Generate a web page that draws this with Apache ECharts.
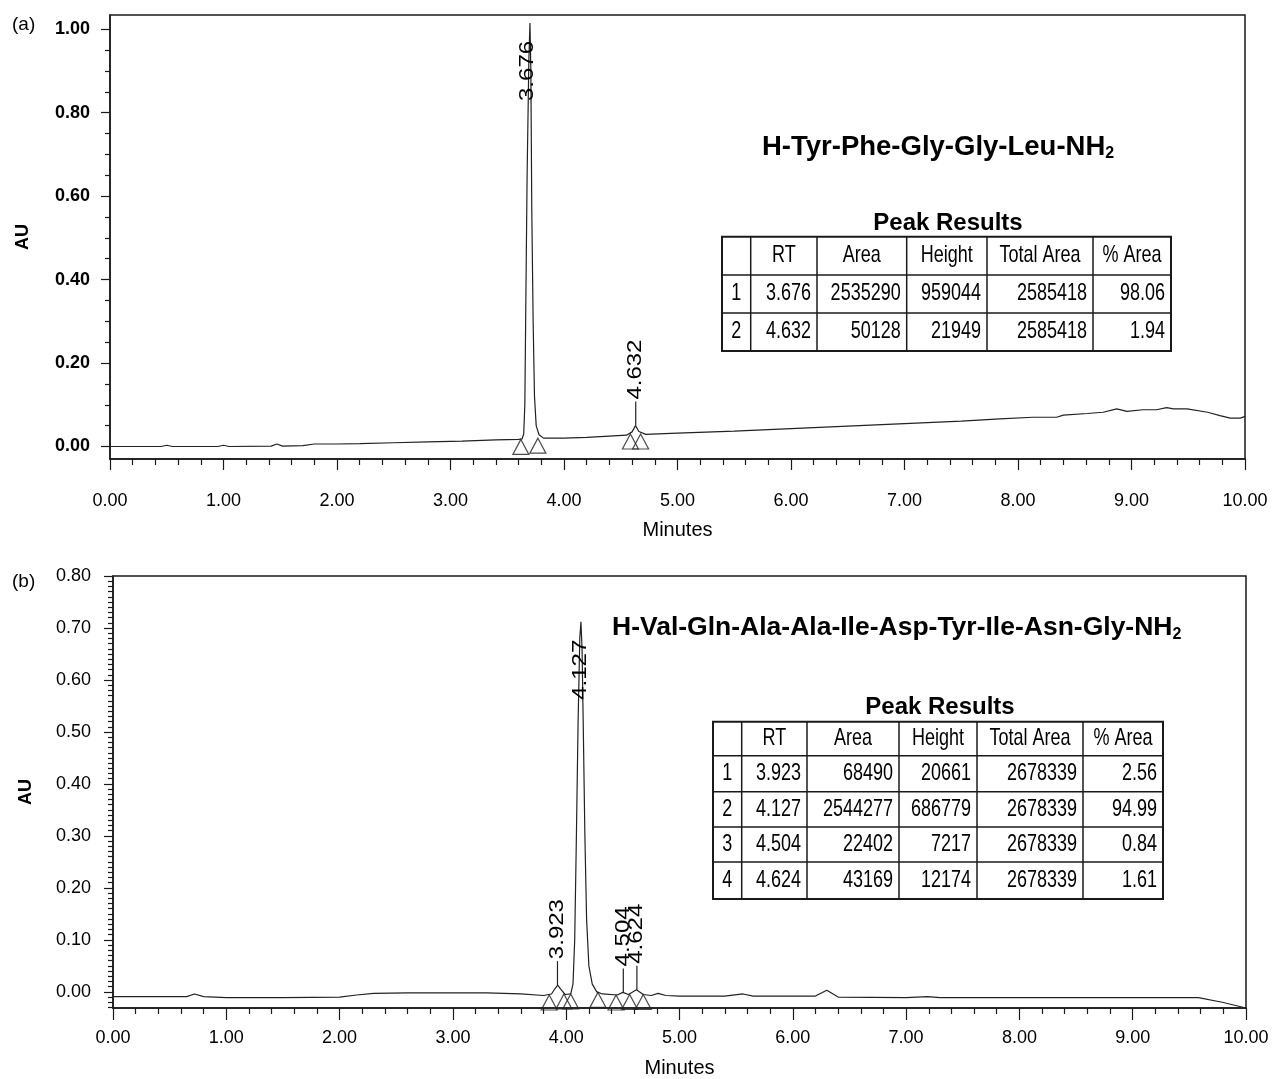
<!DOCTYPE html>
<html>
<head>
<meta charset="utf-8">
<title>Peptide HPLC chromatograms</title>
<script src="https://cdn.jsdelivr.net/npm/echarts@6/dist/echarts.min.js"></script>
<style>
  html, body { margin: 0; padding: 0; background: #fff; }
  #chart { width: 1273px; height: 1079px; }
</style>
</head>
<body>
<div id="chart"></div>
<script>
// chromatogram (a), [minutes, AU]
var traceA = [
  [0.00, 0.000], [0.45, 0.000], [0.50, 0.003], [0.55, 0.000], [0.95, 0.000], [1.00, 0.003],
  [1.05, 0.000], [1.42, 0.001], [1.47, 0.006], [1.52, 0.001], [1.70, 0.002], [1.80, 0.006],
  [2.00, 0.006], [2.20, 0.007], [2.50, 0.009], [2.80, 0.011], [3.10, 0.013], [3.40, 0.016],
  [3.60, 0.017], [3.63, 0.018], [3.645, 0.030], [3.655, 0.100], [3.665, 0.380], [3.675, 0.650],
  [3.690, 0.920], [3.700, 1.015], [3.708, 0.900], [3.716, 0.570], [3.728, 0.300], [3.740, 0.120],
  [3.755, 0.050], [3.78, 0.028], [3.82, 0.020], [4.00, 0.020], [4.20, 0.022], [4.40, 0.025],
  [4.55, 0.027], [4.60, 0.035], [4.63, 0.050], [4.66, 0.036], [4.72, 0.029], [5.00, 0.032],
  [5.50, 0.037], [6.00, 0.043], [6.50, 0.049], [7.00, 0.055], [7.50, 0.061], [7.84, 0.066],
  [8.13, 0.070], [8.34, 0.070], [8.40, 0.075], [8.61, 0.079], [8.75, 0.082], [8.87, 0.090],
  [8.96, 0.084], [9.10, 0.088], [9.22, 0.088], [9.31, 0.093], [9.37, 0.090], [9.49, 0.090],
  [9.67, 0.082], [9.78, 0.074], [9.87, 0.068], [9.96, 0.068], [10.00, 0.072]
];

// chromatogram (b)
var traceB = [
  [0.00, -0.009], [0.65, -0.009], [0.72, -0.004], [0.80, -0.009], [1.00, -0.011], [1.50, -0.011],
  [2.00, -0.010], [2.15, -0.006], [2.30, -0.003], [2.60, -0.002], [3.00, -0.002], [3.30, -0.002],
  [3.60, -0.004], [3.80, -0.007], [3.87, -0.004], [3.90, 0.006], [3.925, 0.013], [3.95, 0.006],
  [3.99, -0.005], [4.04, -0.004], [4.06, 0.015], [4.075, 0.100], [4.09, 0.300], [4.105, 0.520],
  [4.12, 0.680], [4.13, 0.712], [4.14, 0.660], [4.15, 0.520], [4.165, 0.300], [4.18, 0.140],
  [4.20, 0.050], [4.23, 0.015], [4.27, 0.000], [4.32, -0.004], [4.45, -0.006], [4.50, -0.001],
  [4.55, -0.005], [4.62, 0.004], [4.68, -0.005], [4.75, -0.007], [4.81, -0.003], [4.88, -0.007],
  [5.00, -0.008], [5.40, -0.008], [5.56, -0.004], [5.65, -0.008], [6.20, -0.008], [6.30, 0.003],
  [6.40, -0.010], [7.00, -0.011], [7.19, -0.009], [7.30, -0.011], [8.00, -0.011], [9.00, -0.011],
  [9.58, -0.011], [9.79, -0.020], [10.00, -0.031]
];

// peak start / end markers (triangles)
var baseMarksA = [[3.62, 0.017], [3.77, 0.020], [4.585, 0.030], [4.675, 0.030]];
var baseMarksB = [[3.85, -0.006], [3.98, -0.004], [4.04, -0.004], [4.28, -0.001], [4.44, -0.006], [4.56, -0.005], [4.68, -0.005]];

var peakTimesA = [3.676, 4.632];
var peakTimesB = [3.923, 4.127, 4.504, 4.624];

var yTicksA = [0, 0.2, 0.4, 0.6, 0.8, 1.0];
var yTicksB = [0, 0.1, 0.2, 0.3, 0.4, 0.5, 0.6, 0.7, 0.8];

var titleA = 'H-Tyr-Phe-Gly-Gly-Leu-NH';
var titleB = 'H-Val-Gln-Ala-Ala-Ile-Asp-Tyr-Ile-Asn-Gly-NH';

var tableHead = ['', 'RT', 'Area', 'Height', 'Total Area', '% Area'];
var peakRowsA = [
  ['1', '3.676', '2535290', '959044', '2585418', '98.06'],
  ['2', '4.632', '50128', '21949', '2585418', '1.94']
];
var peakRowsB = [
  ['1', '3.923', '68490', '20661', '2678339', '2.56'],
  ['2', '4.127', '2544277', '686779', '2678339', '94.99'],
  ['3', '4.504', '22402', '7217', '2678339', '0.84'],
  ['4', '4.624', '43169', '12174', '2678339', '1.61']
];

var FONT = "'Liberation Sans', Arial, sans-serif";
var INK = '#1a1a1a';

var yMinA = -0.03, yMaxA = 1.034;
var yMinB = -0.031, yMaxB = 0.80;

function fmt2(v) { return v.toFixed(2); }

// small ticks between the labelled ones
function minorTicks(lo, hi, step, majorStep) {
  var out = [];
  var n0 = Math.ceil(lo / step - 1e-9), n1 = Math.floor(hi / step + 1e-9);
  var ratio = Math.round(majorStep / step);
  for (var i = n0; i <= n1; i++) {
    if (i % ratio !== 0) out.push(+(i * step).toFixed(4));
  }
  return out;
}
var yMinorA = minorTicks(yMinA, yMaxA, 0.05, 0.2);
var yMinorB = minorTicks(yMinB, yMaxB, 0.01, 0.1);

var lineSty = { color: INK, width: 1.5 };
var tickSty = { color: INK, width: 1.2 };

function xAxisFor(grid, labelSize, margin, nameGap, tickLen) {
  return {
    gridIndex: grid, type: 'value', min: 0, max: 10, interval: 1,
    axisLine: { show: true, onZero: false, lineStyle: lineSty },
    axisTick: { show: true, length: tickLen, lineStyle: tickSty },
    minorTick: { show: true, splitNumber: 5, length: 6, lineStyle: tickSty },
    splitLine: { show: false },
    minorSplitLine: { show: false },
    axisLabel: { formatter: fmt2, margin: margin, fontFamily: FONT, fontSize: labelSize, color: '#000' },
    name: 'Minutes', nameLocation: 'middle', nameGap: nameGap,
    nameTextStyle: { fontFamily: FONT, fontSize: 20, color: '#000' }
  };
}

function yAxesFor(grid, lo, hi, major, minor, bold, margin) {
  return [{
    gridIndex: grid, type: 'value', min: lo, max: hi, position: 'left',
    axisLine: { show: true, onZero: false, lineStyle: lineSty },
    axisTick: { show: true, length: 9, customValues: major, lineStyle: tickSty },
    axisLabel: {
      customValues: major, formatter: fmt2, margin: margin, fontFamily: FONT,
      fontWeight: bold ? 'bold' : 'normal', fontSize: 18, color: '#000'
    },
    splitLine: { show: false },
    name: 'AU', nameLocation: 'middle', nameGap: 78,
    nameTextStyle: { fontFamily: FONT, fontWeight: 'bold', fontSize: 18, color: '#000' }
  }, {
    gridIndex: grid, type: 'value', min: lo, max: hi, position: 'left',
    axisLine: { show: false },
    axisTick: { show: true, length: 5, customValues: minor, lineStyle: tickSty },
    axisLabel: { show: false, customValues: minor },
    splitLine: { show: false }
  }];
}

function traceSeries(xi, yi, data) {
  return {
    type: 'line', xAxisIndex: xi, yAxisIndex: yi, data: data,
    symbol: 'none', showSymbol: false, silent: true,
    lineStyle: { color: '#222', width: 1.2 }, z: 3
  };
}

function markSeries(xi, yi, data) {
  return {
    type: 'scatter', xAxisIndex: xi, yAxisIndex: yi, data: data,
    symbol: 'triangle', symbolSize: [16, 15], symbolOffset: [0, '50%'], silent: true,
    itemStyle: { color: 'rgba(0,0,0,0)', borderColor: '#222', borderWidth: 1.2 }, z: 2
  };
}

var chart = echarts.init(document.getElementById('chart'));

var option = {
  animation: false,
  backgroundColor: '#fff',
  grid: [
    { left: 110, right: 28, top: 15, bottom: 620, show: true, borderColor: INK, borderWidth: 1.5 },
    { left: 113, right: 27, top: 576, bottom: 71, show: true, borderColor: INK, borderWidth: 1.5 }
  ],
  xAxis: [
    xAxisFor(0, 18, 33, 61, 11),
    xAxisFor(1, 18, 21, 50, 12)
  ],
  yAxis: yAxesFor(0, yMinA, yMaxA, yTicksA, yMinorA, true, 20)
    .concat(yAxesFor(1, yMinB, yMaxB, yTicksB, yMinorB, false, 22)),
  series: [
    traceSeries(0, 0, traceA),
    markSeries(0, 0, baseMarksA),
    traceSeries(1, 2, traceB),
    markSeries(1, 2, baseMarksB)
  ]
};

chart.setOption(option);

// ---- overlays: panel tags, peptide names, peak tables, peak labels ----
var g = [];

function addText(x, y, text, font, align, sy) {
  g.push({
    type: 'text', x: x, y: y, z: 10, scaleY: sy || 1,
    style: { text: text, font: font, fill: '#000', align: align || 'left', verticalAlign: 'middle' }
  });
}

function addTitle(x, y, text, size) {
  g.push({
    type: 'text', x: x, y: y, z: 10,
    style: {
      text: '{m|' + text + '}{s|2}',
      verticalAlign: 'middle',
      rich: {
        m: { font: 'bold ' + size + 'px ' + FONT, fill: '#000', lineHeight: 30 },
        s: { font: 'bold 16px ' + FONT, fill: '#000', lineHeight: 14, verticalAlign: 'bottom' }
      }
    }
  });
}

function addTable(colX, rowY, rows, titleX, titleY) {
  var L = colX[0], R = colX[colX.length - 1], T = rowY[0], B = rowY[rowY.length - 1];
  addText(titleX, titleY, 'Peak Results', 'bold 24px ' + FONT, 'center');
  g.push({ type: 'rect', z: 9, shape: { x: L, y: T, width: R - L, height: B - T },
    style: { fill: '#fff', stroke: INK, lineWidth: 2 } });
  for (var c = 1; c < colX.length - 1; c++) {
    g.push({ type: 'line', z: 10, shape: { x1: colX[c], y1: T, x2: colX[c], y2: B },
      style: { stroke: INK, lineWidth: 1.5 } });
  }
  for (var r = 1; r < rowY.length - 1; r++) {
    g.push({ type: 'line', z: 10, shape: { x1: L, y1: rowY[r], x2: R, y2: rowY[r] },
      style: { stroke: INK, lineWidth: 1.5 } });
  }
  var cellFont = '18px ' + FONT;
  tableHead.forEach(function (h, c) {
    addText((colX[c] + colX[c + 1]) / 2, (rowY[0] + rowY[1]) / 2, h, cellFont, 'center', 1.3);
  });
  rows.forEach(function (row, r) {
    var cy = (rowY[r + 1] + rowY[r + 2]) / 2;
    row.forEach(function (v, c) {
      if (c === 0) addText((colX[0] + colX[1]) / 2, cy, v, cellFont, 'center', 1.3);
      else addText(colX[c + 1] - 6, cy, v, cellFont, 'right', 1.3);
    });
  });
}

function addPeakLabels(seriesIndex, trace, times) {
  times.forEach(function (rt) {
    var apex = -Infinity;
    trace.forEach(function (p) {
      if (Math.abs(p[0] - rt) <= 0.04 && p[1] > apex) apex = p[1];
    });
    var pt = chart.convertToPixel({ seriesIndex: seriesIndex }, [rt, apex]);
    var font = '20px ' + FONT;
    if (apex > 0.3) {
      g.push({ type: 'text', x: pt[0], y: pt[1] + 18, rotation: Math.PI / 2, scaleX: 1.2, z: 10,
        style: { text: rt.toFixed(3), font: font, fill: '#000', align: 'right', verticalAlign: 'middle' } });
    } else {
      g.push({ type: 'line', z: 10, shape: { x1: pt[0], y1: pt[1], x2: pt[0], y2: pt[1] - 24 },
        style: { stroke: '#222', lineWidth: 1.2 } });
      g.push({ type: 'text', x: pt[0], y: pt[1] - 26, rotation: Math.PI / 2, scaleX: 1.2, z: 10,
        style: { text: rt.toFixed(3), font: font, fill: '#000', align: 'left', verticalAlign: 'middle' } });
    }
  });
}

addText(12, 25, '(a)', '19px ' + FONT);
addText(12, 582, '(b)', '19px ' + FONT);
addTitle(762, 147, titleA, 27.5);
addTitle(612, 628, titleB, 26.5);
addTable([722, 750.7, 817, 906.7, 987, 1093, 1171], [236.7, 275, 313, 351], peakRowsA, 948, 223);
addTable([713, 741.7, 807, 899, 977, 1083, 1163], [721.7, 755.7, 791.7, 827, 862, 899], peakRowsB, 940, 707);
addPeakLabels(0, traceA, peakTimesA);
addPeakLabels(2, traceB, peakTimesB);

chart.setOption({ graphic: g });
</script>
</body>
</html>
